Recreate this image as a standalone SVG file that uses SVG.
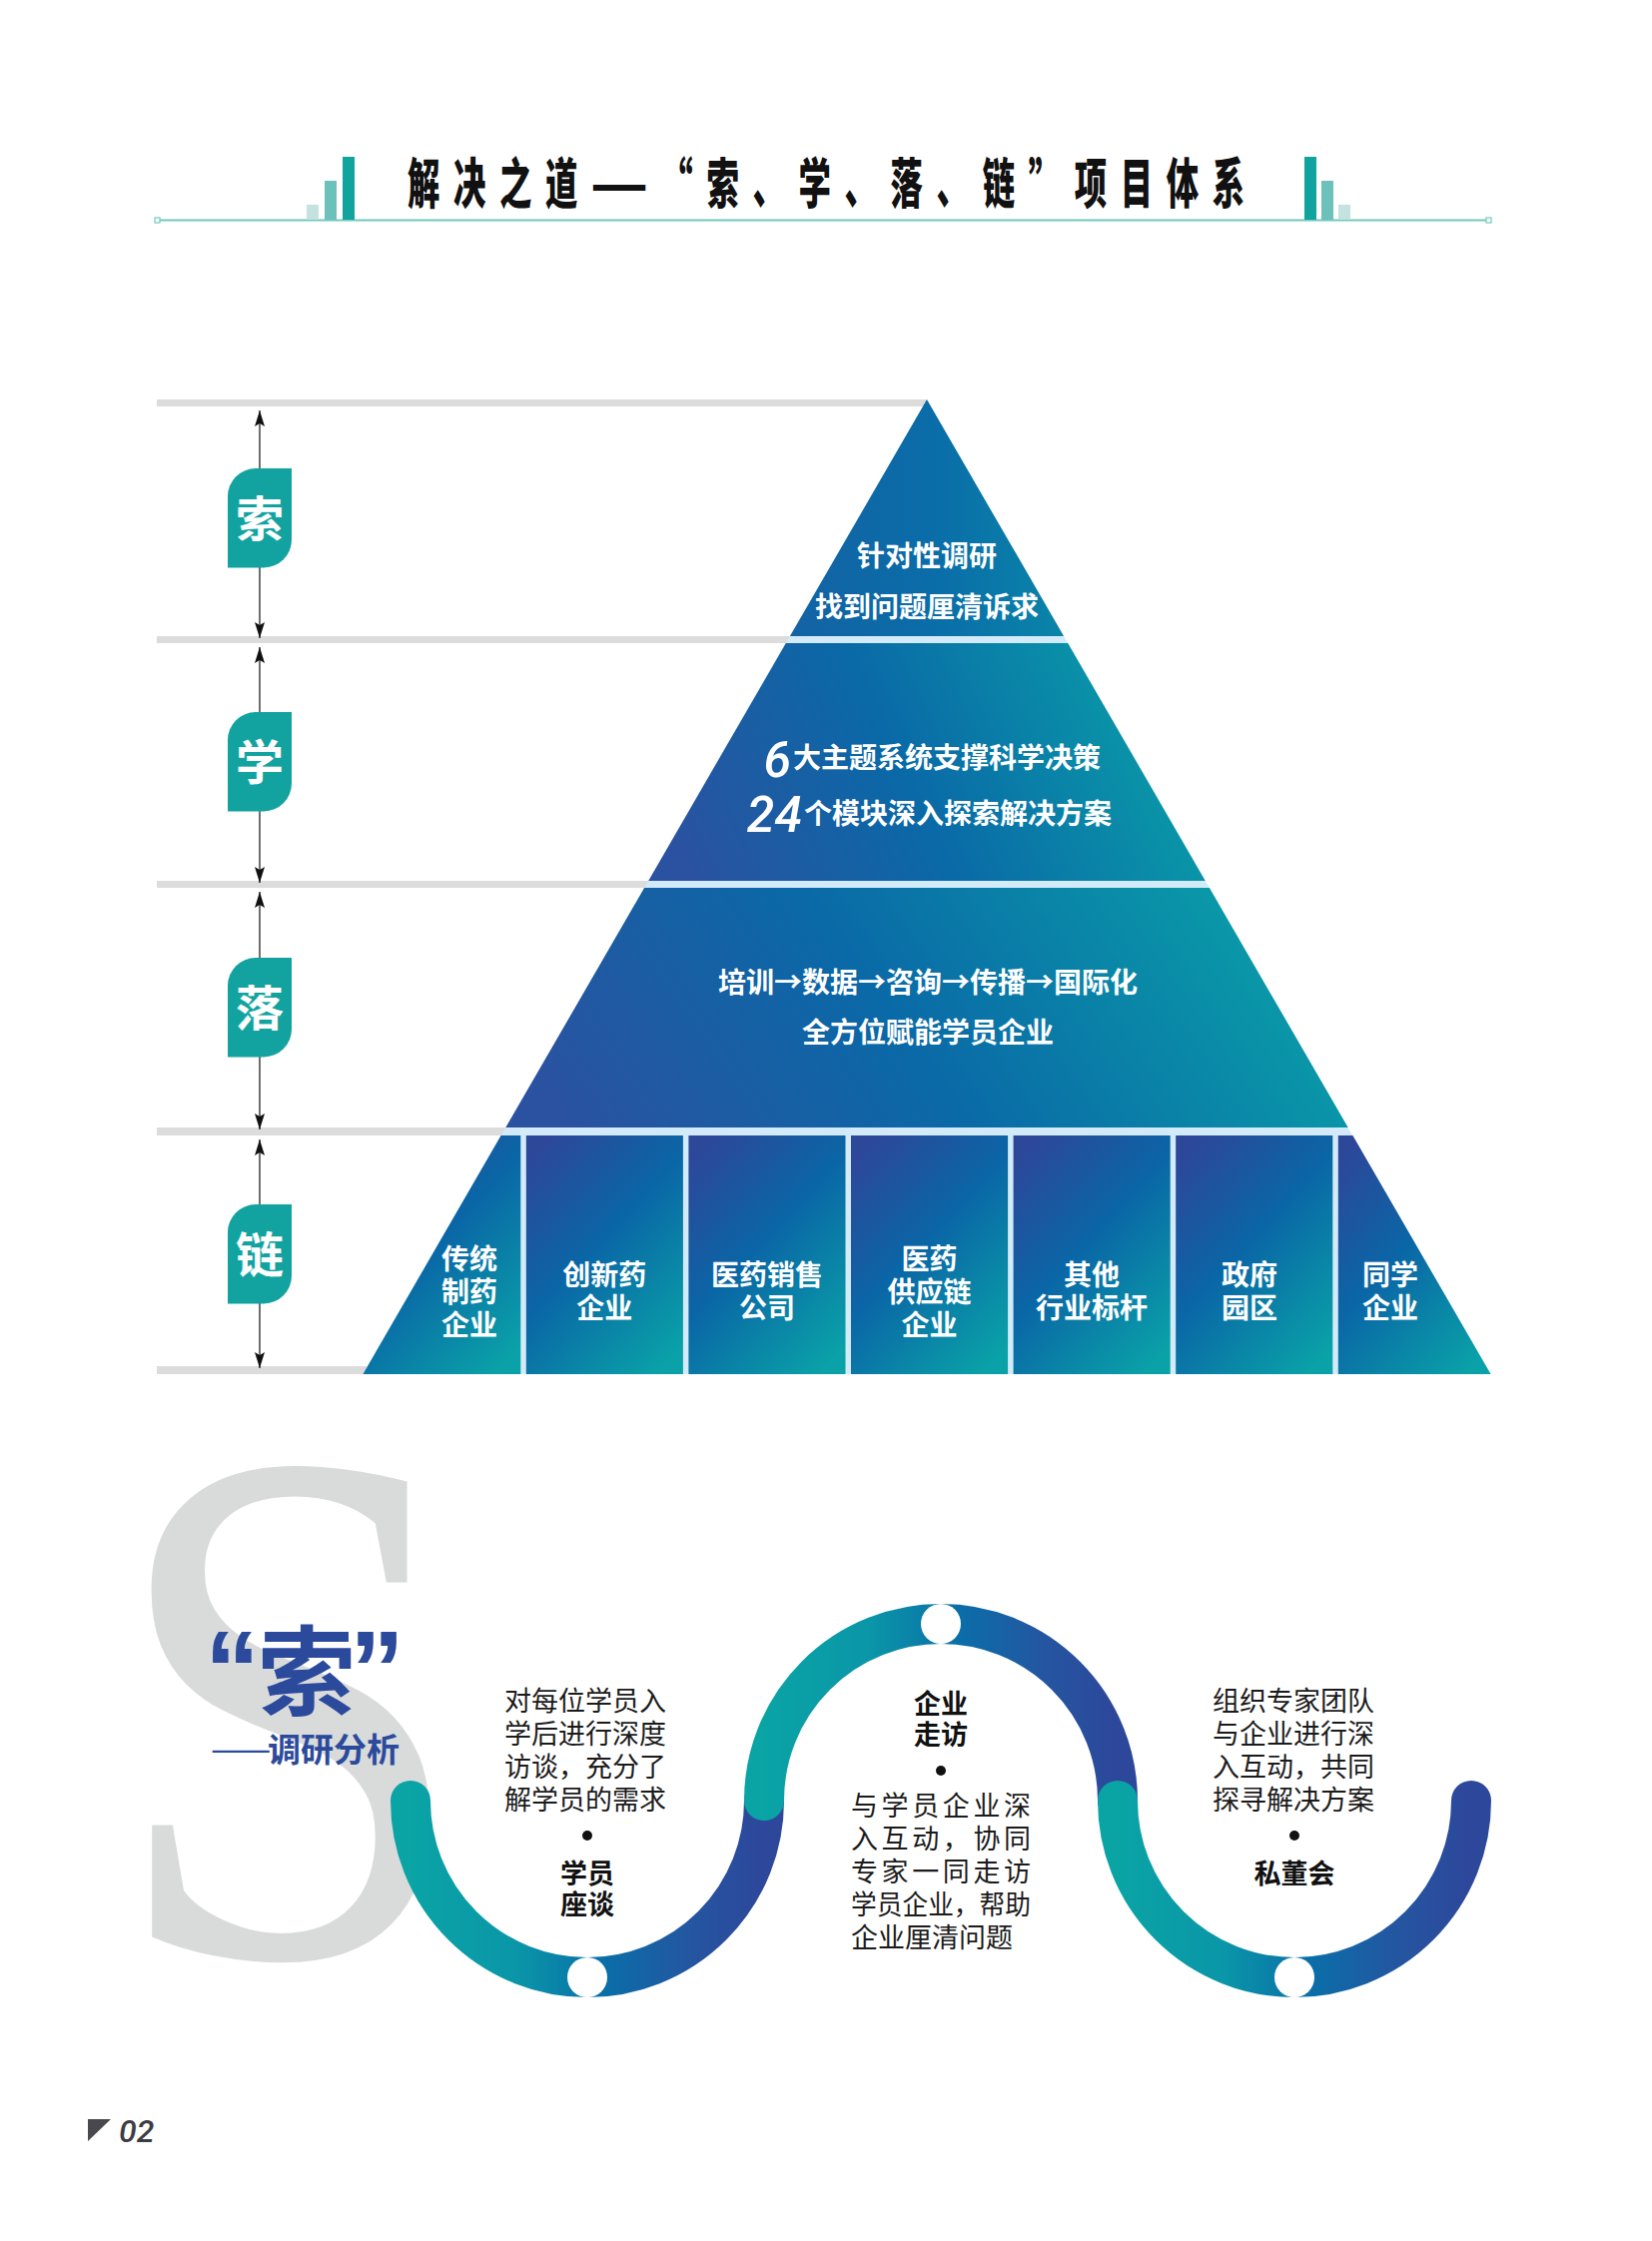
<svg xmlns="http://www.w3.org/2000/svg" width="1654" height="2244" viewBox="0 0 1654 2244">
<defs>
<style>
.cjk{font-family:"Noto Sans CJK SC","Noto Sans",sans-serif;}
.wt{fill:#ffffff;font-weight:700;font-size:28px;text-anchor:middle;}
.wl{fill:#ffffff;font-weight:700;font-size:28px;}
.num{fill:#ffffff;font-family:Roboto,"Liberation Sans",sans-serif;font-style:italic;font-weight:500;font-size:50px;text-anchor:end;}
.tab{fill:#12a3a0;}
.tabt{fill:#ffffff;font-size:48px;font-weight:700;text-anchor:middle;}
.gray{fill:#dcdcdc;}
.band{fill:#d3ebf8;}
.arr{stroke:#222222;stroke-width:1.3;fill:none;marker-start:url(#ah);marker-end:url(#ah);}
.body{font-size:27px;fill:#1b1b1b;}
.lab{font-size:27px;font-weight:700;fill:#111111;text-anchor:middle;}
.wave{fill:none;stroke-width:40;stroke-linecap:round;stroke:url(#gw);}
.dot{fill:#111111;}
.hole{fill:#ffffff;}
</style>
<marker id="ah" viewBox="0 0 16 10" markerWidth="16" markerHeight="10" refX="16" refY="5" orient="auto-start-reverse" markerUnits="userSpaceOnUse">
<path d="M0,0 L16,5 L0,10 L3,5 Z" fill="#111111"/>
</marker>
<linearGradient id="gL1" x1="0" y1="0" x2="1" y2="0">
<stop offset="0" stop-color="#1463a4"/>
<stop offset="0.5" stop-color="#0a6ca8"/>
<stop offset="1" stop-color="#0a84a9"/>
</linearGradient>
<linearGradient id="gL" x1="0" y1="0.6" x2="1" y2="0.4">
<stop offset="0" stop-color="#2a52a0"/>
<stop offset="0.45" stop-color="#0a69a7"/>
<stop offset="1" stop-color="#0aa0a8"/>
</linearGradient>
<linearGradient id="gC" x1="0.15" y1="0" x2="0.85" y2="1">
<stop offset="0" stop-color="#2d4799"/>
<stop offset="0.45" stop-color="#0a66a6"/>
<stop offset="1" stop-color="#0aa2a8"/>
</linearGradient>
<linearGradient id="gw" x1="0" y1="0" x2="1" y2="0">
<stop offset="0" stop-color="#0aa4a5"/>
<stop offset="0.3" stop-color="#0a96a8"/>
<stop offset="0.55" stop-color="#0a6ea8"/>
<stop offset="0.8" stop-color="#2555a0"/>
<stop offset="1" stop-color="#2d479a"/>
</linearGradient>
</defs>
<rect width="1654" height="2244" fill="#ffffff"/>

<g id="title">
<line x1="159" y1="220.5" x2="1489" y2="220.5" stroke="#6fcabd" stroke-width="2"/>
<rect x="155" y="218" width="5" height="5" fill="#ffffff" stroke="#6fcabd" stroke-width="1.2"/>
<rect x="1488" y="218" width="5" height="5" fill="#ffffff" stroke="#6fcabd" stroke-width="1.2"/>
<rect x="307" y="205" width="12" height="15" fill="#c4e3e0"/>
<rect x="325" y="181" width="12" height="39" fill="#6dc1bb"/>
<rect x="343" y="157" width="12" height="63" fill="#11a39e"/>
<rect x="1306" y="157" width="12" height="63" fill="#11a39e"/>
<rect x="1323" y="181" width="12" height="39" fill="#6dc1bb"/>
<rect x="1340" y="205" width="12" height="15" fill="#c4e3e0"/>
<text class="cjk" x="0" y="0" transform="translate(408,204) scale(0.6,1)" font-size="54" font-weight="900" fill="#111111" textLength="1397" lengthAdjust="spacing">解决之道——“索、学、落、链”项目体系</text>
</g>

<g id="guides">
<rect class="gray" x="157" y="400" width="771" height="7"/>
<rect class="gray" x="157" y="637" width="638" height="7"/>
<rect class="gray" x="157" y="882" width="496" height="7"/>
<rect class="gray" x="157" y="1129" width="353" height="8"/>
<rect class="gray" x="157" y="1368" width="210" height="8"/>
</g>

<g id="pyramid">
<polygon class="band" points="790.9,637 1065.1,637 1069.2,644 786.8,644"/>
<polygon class="band" points="649.2,882 1206.8,882 1210.9,889 645.1,889"/>
<polygon class="band" points="506.3,1129 1349.7,1129 1492.6,1376 363.4,1376"/>
<g id="layer-suo">
<polygon points="928,400 1065.1,637 790.9,637" fill="url(#gL1)"/>
<text class="cjk wt" x="928" y="567">针对性调研</text>
<text class="cjk wt" x="928" y="618">找到问题厘清诉求</text>
</g>
<g id="layer-xue">
<polygon points="786.8,644 1069.2,644 1206.8,882 649.2,882" fill="url(#gL)"/>
<text class="num" x="792" y="778">6</text>
<text class="cjk wl" x="794" y="769">大主题系统支撑科学决策</text>
<text class="num" x="803" y="833">24</text>
<text class="cjk wl" x="805" y="825">个模块深入探索解决方案</text>
</g>
<g id="layer-luo">
<polygon points="645.1,889 1210.9,889 1349.7,1129 506.3,1129" fill="url(#gL)"/>
<text class="cjk wt" x="929" y="994">培训→数据→咨询→传播→国际化</text>
<text class="cjk wt" x="929" y="1044">全方位赋能学员企业</text>
</g>
<g id="layer-lian">
<g id="col-1">
<polygon points="501.6,1137 521.3,1137 521.3,1376 363.4,1376" fill="url(#gC)"/>
<text class="cjk wt" x="470" y="1271">传统</text>
<text class="cjk wt" x="470" y="1304">制药</text>
<text class="cjk wt" x="470" y="1337">企业</text>
</g>
<g id="col-2">
<rect x="526.8" y="1137" width="157.1" height="239" fill="url(#gC)"/>
<text class="cjk wt" x="605.3" y="1287">创新药</text>
<text class="cjk wt" x="605.3" y="1320">企业</text>
</g>
<g id="col-3">
<rect x="689.4" y="1137" width="157.1" height="239" fill="url(#gC)"/>
<text class="cjk wt" x="767.9" y="1287">医药销售</text>
<text class="cjk wt" x="767.9" y="1320">公司</text>
</g>
<g id="col-4">
<rect x="852" y="1137" width="157.1" height="239" fill="url(#gC)"/>
<text class="cjk wt" x="930.5" y="1271">医药</text>
<text class="cjk wt" x="930.5" y="1304">供应链</text>
<text class="cjk wt" x="930.5" y="1337">企业</text>
</g>
<g id="col-5">
<rect x="1014.6" y="1137" width="157.1" height="239" fill="url(#gC)"/>
<text class="cjk wt" x="1093.1" y="1287">其他</text>
<text class="cjk wt" x="1093.1" y="1320">行业标杆</text>
</g>
<g id="col-6">
<rect x="1177.2" y="1137" width="157.1" height="239" fill="url(#gC)"/>
<text class="cjk wt" x="1251" y="1287">政府</text>
<text class="cjk wt" x="1251" y="1320">园区</text>
</g>
<g id="col-7">
<polygon points="1339.8,1137 1354.4,1137 1492.6,1376 1339.8,1376" fill="url(#gC)"/>
<text class="cjk wt" x="1392" y="1287">同学</text>
<text class="cjk wt" x="1392" y="1320">企业</text>
</g>
</g>
</g>

<g id="connectors">
<line class="arr" x1="260" y1="411" x2="260" y2="639"/>
<line class="arr" x1="260" y1="648" x2="260" y2="884"/>
<line class="arr" x1="260" y1="893" x2="260" y2="1131"/>
<line class="arr" x1="260" y1="1141" x2="260" y2="1370"/>
</g>

<g id="tab-suo">
<path class="tab" d="M228,568.5 V497 A28,28 0 0 1 256,469 H292 V540.5 A28,28 0 0 1 264,568.5 Z"/>
<text class="cjk tabt" x="260" y="537">索</text>
</g>
<g id="tab-xue">
<path class="tab" d="M228,812.5 V741 A28,28 0 0 1 256,713 H292 V784.5 A28,28 0 0 1 264,812.5 Z"/>
<text class="cjk tabt" x="260" y="781">学</text>
</g>
<g id="tab-luo">
<path class="tab" d="M228,1058.5 V987 A28,28 0 0 1 256,959 H292 V1030.5 A28,28 0 0 1 264,1058.5 Z"/>
<text class="cjk tabt" x="260" y="1027">落</text>
</g>
<g id="tab-lian">
<path class="tab" d="M228,1305.5 V1234 A28,28 0 0 1 256,1206 H292 V1277.5 A28,28 0 0 1 264,1305.5 Z"/>
<text class="cjk tabt" x="260" y="1274">链</text>
</g>

<g id="suo-heading">
<text x="0" y="0" transform="translate(108,1958) scale(0.88,1)" font-family="Liberation Serif" font-size="740" fill="#d9dada">S</text>
<text class="cjk" y="1710" font-size="98" font-weight="700" fill="#2b4a9c"><tspan x="205" font-family="Liberation Sans" font-size="110">“</tspan><tspan x="258">索</tspan><tspan x="350" font-family="Liberation Sans" font-size="110">”</tspan></text>
<text class="cjk" y="1764" fill="#2b4a9c"><tspan x="211" font-size="36" font-weight="400">——</tspan><tspan x="268" font-size="33" font-weight="700">调研分析</tspan></text>
</g>

<g id="wave">
<path class="wave" d="M411,1803 A177,177 0 0 0 765,1803"/>
<path class="wave" d="M765,1803 A177,177 0 0 1 1119,1803"/>
<path class="wave" d="M1119,1803 A177,177 0 0 0 1473,1803"/>
<circle class="hole" cx="588" cy="1980" r="20"/>
<circle class="hole" cx="942" cy="1626" r="20"/>
<circle class="hole" cx="1296" cy="1980" r="20"/>
</g>

<g id="node-xueyuan-zuotan">
<text class="cjk body" x="505" y="1713">对每位学员入</text>
<text class="cjk body" x="505" y="1746">学后进行深度</text>
<text class="cjk body" x="505" y="1779">访谈，充分了</text>
<text class="cjk body" x="505" y="1812">解学员的需求</text>
<circle class="dot" cx="588" cy="1838" r="5"/>
<text class="cjk lab" x="588" y="1886">学员</text>
<text class="cjk lab" x="588" y="1917">座谈</text>
</g>

<g id="node-qiye-zoufang">
<text class="cjk lab" x="942" y="1716">企业</text>
<text class="cjk lab" x="942" y="1747">走访</text>
<circle class="dot" cx="942" cy="1773" r="5"/>
<text class="cjk body" x="852" y="1818" textLength="180" lengthAdjust="spacing">与学员企业深</text>
<text class="cjk body" x="852" y="1851" textLength="180" lengthAdjust="spacing">入互动，协同</text>
<text class="cjk body" x="852" y="1884" textLength="180" lengthAdjust="spacing">专家一同走访</text>
<text class="cjk body" x="852" y="1917" textLength="180" lengthAdjust="spacingAndGlyphs">学员企业，帮助</text>
<text class="cjk body" x="852" y="1950">企业厘清问题</text>
</g>

<g id="node-sidonghui">
<text class="cjk body" x="1214" y="1713">组织专家团队</text>
<text class="cjk body" x="1214" y="1746">与企业进行深</text>
<text class="cjk body" x="1214" y="1779">入互动，共同</text>
<text class="cjk body" x="1214" y="1812">探寻解决方案</text>
<circle class="dot" cx="1296" cy="1838" r="5"/>
<text class="cjk lab" x="1296" y="1886">私董会</text>
</g>

<g id="page-number">
<polygon points="88,2122 111,2122 88,2144" fill="#48484e"/>
<text x="119" y="2145" font-family="Roboto,'Liberation Sans',sans-serif" font-style="italic" font-weight="500" font-size="32" fill="#3c3c44">02</text>
</g>
</svg>
